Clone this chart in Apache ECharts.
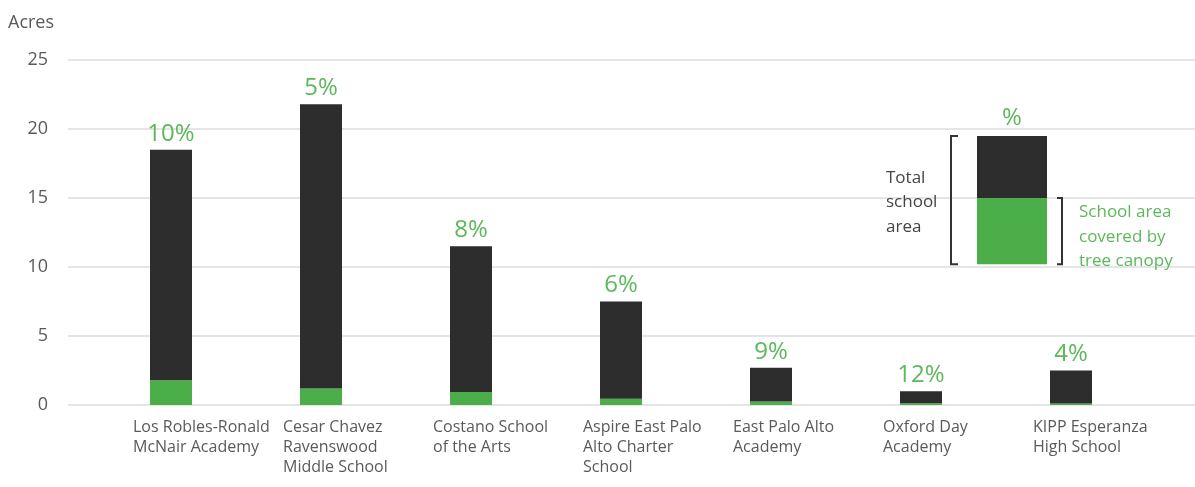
<!DOCTYPE html>
<html><head><meta charset="utf-8">
<script src="https://cdn.jsdelivr.net/npm/echarts@6/dist/echarts.min.js"></script>
<style>html,body{margin:0;padding:0;background:#fff}#c{width:1195px;height:487px}</style>
</head><body><div id="c"></div>
<script>
const schools = ['Los Robles-Ronald\nMcNair Academy', 'Cesar Chavez\nRavenswood\nMiddle School', 'Costano School\nof the Arts', 'Aspire East Palo\nAlto Charter\nSchool', 'East Palo Alto\nAcademy', 'Oxford Day\nAcademy', 'KIPP Esperanza\nHigh School'];
const totalAcres = [18.5, 21.8, 11.5, 7.5, 2.7, 1.0, 2.5];
const canopyAcres = [1.8, 1.2, 0.95, 0.45, 0.25, 0.12, 0.1];
const canopyPct = ['10%', '5%', '8%', '6%', '9%', '12%', '4%'];
const yTicks = [0, 5, 10, 15, 20, 25];
const legendLevels = [10.2, 15, 19.5]; // key bar: bottom, canopy top, total top

const FONT = '"Open Sans", "Noto Sans", sans-serif';
const GREEN_BAR = '#4cae48';
const DARK_BAR = '#2d2d2d';
const GREEN_TXT = '#5cb85a';
const GRAY_TXT = '#5a5a5a';

const chart = echarts.init(document.getElementById('c'), null, {renderer: 'canvas'});
const restAcres = totalAcres.map((t, i) => +(t - canopyAcres[i]).toFixed(2));

chart.setOption({
  animation: false,
  backgroundColor: '#fff',
  textStyle: {fontFamily: FONT},
  grid: [
    {left: 68, right: 0, top: 60, bottom: 82},
    {left: 96, right: 49, top: 60, bottom: 82}
  ],
  xAxis: [
    {gridIndex: 0, type: 'value', show: false, min: 0, max: 1},
    {gridIndex: 1, type: 'category', data: schools,
     axisLine: {show: false}, axisTick: {show: false},
     axisLabel: {interval: 0, margin: 12, color: GRAY_TXT, fontFamily: FONT,
       formatter: v => v.split('\n').map(l => '{a|' + l + '}').join('\n'),
       rich: {a: {width: 76, align: 'left', fontSize: 16, lineHeight: 20, color: GRAY_TXT, fontFamily: FONT}}}}
  ],
  yAxis: [
    {gridIndex: 0, type: 'value', min: yTicks[0], max: yTicks[yTicks.length - 1], interval: 5,
     name: 'Acres', nameLocation: 'end', nameGap: 0,
     nameTextStyle: {align: 'left', verticalAlign: 'bottom', padding: [0, 0, 28, -60], fontSize: 18, color: GRAY_TXT, fontFamily: FONT},
     axisLine: {show: false}, axisTick: {show: false},
     axisLabel: {margin: 20, fontSize: 18, color: GRAY_TXT, fontFamily: FONT},
     splitLine: {lineStyle: {color: '#dcdcdc', width: 1.5}}},
    {gridIndex: 1, type: 'value', min: 0, max: 25, interval: 5, show: false}
  ],
  series: [
    {type: 'bar', name: 'Tree canopy', xAxisIndex: 1, yAxisIndex: 1, stack: 's', data: canopyAcres,
     barWidth: 42, itemStyle: {color: GREEN_BAR}},
    {type: 'bar', name: 'Total school area', xAxisIndex: 1, yAxisIndex: 1, stack: 's', data: restAcres,
     barWidth: 42, itemStyle: {color: DARK_BAR},
     label: {show: true, position: 'top', distance: 4, formatter: p => canopyPct[p.dataIndex],
       fontSize: 24, color: GREEN_TXT, fontFamily: FONT}}
  ]
});

const yp = v => chart.convertToPixel({yAxisIndex: 1}, v);
const yB = yp(legendLevels[0]), yG = yp(legendLevels[1]), yT = yp(legendLevels[2]);
chart.setOption({
  graphic: [
    {type: 'rect', z: 100, shape: {x: 977, y: yT, width: 70, height: yG - yT}, style: {fill: DARK_BAR}},
    {type: 'rect', z: 100, shape: {x: 977, y: yG, width: 70, height: yB - yG}, style: {fill: GREEN_BAR}},
    {type: 'text', z: 100, x: 1012, y: yT - 6, style: {text: '%', fill: GREEN_TXT, font: '24px ' + FONT, align: 'center', verticalAlign: 'bottom'}},
    {type: 'polyline', z: 100, shape: {points: [[958, yT], [951, yT], [951, yB], [958, yB]]}, style: {stroke: '#333', lineWidth: 2, fill: null}},
    {type: 'polyline', z: 100, shape: {points: [[1057, yG], [1062, yG], [1062, yB], [1057, yB]]}, style: {stroke: '#333', lineWidth: 2, fill: null}},
    {type: 'text', z: 100, x: 886, y: yT + 30, style: {text: 'Total\nschool\narea', fill: '#444', font: '17px ' + FONT, lineHeight: 24.5, align: 'left', verticalAlign: 'top'}},
    {type: 'text', z: 100, x: 1079, y: yG + 2, style: {text: 'School area\ncovered by\ntree canopy', fill: GREEN_TXT, font: '17px ' + FONT, lineHeight: 24.5, align: 'left', verticalAlign: 'top'}}
  ]
});
</script>
</body></html>
